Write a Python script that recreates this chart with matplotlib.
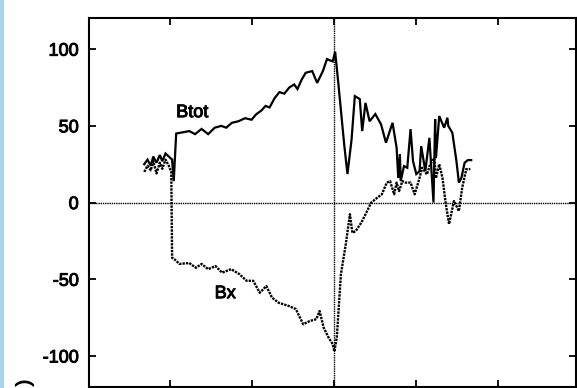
import matplotlib
matplotlib.use("Agg")
import matplotlib.pyplot as plt
import matplotlib.patheffects as pe
from matplotlib.patches import Rectangle

plt.rcParams["font.family"] = ["Liberation Sans", "DejaVu Sans"]
plt.rcParams["axes.unicode_minus"] = False

# time relative to the crossing (tick units), field in nT
t_btot = [-2.32, -2.28, -2.24, -2.21, -2.17, -2.13, -2.10, -2.06, -2.02, -1.98,
          -1.96, -1.93, -1.77, -1.70, -1.62, -1.54, -1.46, -1.38, -1.32, -1.25,
          -1.17, -1.09, -1.01, -0.955, -0.89, -0.84, -0.79, -0.73, -0.67, -0.61,
          -0.55, -0.49, -0.45, -0.40, -0.35,
          -0.27, -0.21, -0.14, -0.09, -0.02, 0.01, 0.05, 0.12, 0.16, 0.21,
          0.25, 0.31, 0.34, 0.38, 0.43, 0.50, 0.57, 0.63, 0.71, 0.76,
          0.78, 0.80, 0.81, 0.85, 0.89, 0.93, 0.96, 1.00, 1.04, 1.06,
          1.11, 1.16, 1.21, 1.23, 1.24, 1.28, 1.34, 1.38, 1.39, 1.44,
          1.49, 1.52, 1.55, 1.59, 1.63, 1.67]
btot = [25, 28, 24, 30, 26, 31, 27, 32, 30, 28,
        14, 45, 46.6, 44.6, 48, 44.6, 48.8, 50, 48.8, 52,
        53, 55, 54, 57.5, 60, 63, 62, 68, 72, 71,
        75, 77, 74, 80, 84.6,
        85.7, 78, 85.7, 93.5, 92, 98.3, 77, 38, 18.6, 41,
        69.4, 67.5, 46.6, 65, 53, 57.7, 51, 39, 52, 35.7,
        16, 31.6, 14, 23.8, 22.7, 47.9, 27, 18.6, 20.5, 36.8,
        20.5, 42.2, 0, 54.4, 29, 56.4, 48.8, 55.3, 50, 45.5,
        27, 13, 16, 26, 27.7, 27.7]

t_bx = [-2.32, -2.28, -2.24, -2.21, -2.17, -2.13, -2.10, -2.06, -2.02, -1.99,
        -1.98, -1.95, -1.89, -1.77, -1.69, -1.62, -1.54, -1.45, -1.37, -1.26,
        -1.16, -1.07, -0.99, -0.91, -0.83, -0.76, -0.68, -0.55, -0.47, -0.38,
        -0.30, -0.22, -0.18, -0.13, -0.07, -0.02, 0.0, 0.03, 0.08, 0.14,
        0.19, 0.22, 0.26, 0.33, 0.39, 0.45, 0.52, 0.58, 0.64, 0.68,
        0.73, 0.76, 0.79, 0.83, 0.87, 0.93, 0.98, 1.04, 1.07, 1.13,
        1.17, 1.22, 1.24, 1.28, 1.32, 1.36, 1.40, 1.46, 1.52, 1.56,
        1.61, 1.66]
bx = [20, 24, 21, 27, 19, 26, 22, 28, 24, 20,
      -36, -37, -40, -39.4, -42.5, -40, -43.4, -41.4, -45.7, -43.4,
      -46.6, -51, -51, -58.8, -54.4, -62, -65.3, -67.5, -69.4, -79.3,
      -77.2, -76, -70.7, -81.6, -88, -92.3, -97, -88, -46.8, -27,
      -7.6, -19.7, -18.6, -13, -6.6, 0, 3, 5.4, 13, 14,
      5.4, 13, 7.5, 14, 13, 13, 5.4, 16, 22.7, 18.4,
      25, 29, 16, 25, 16, -1, -14, 1, -5.5, 9.6,
      21.8, 21.8]

# a thin outline thickens the printed-looking lettering a little
ink = [pe.withStroke(linewidth=0.7, foreground="black")]

fig = plt.figure(figsize=(5.77, 3.88), dpi=100)
fig.patch.set_facecolor("white")
ax = fig.add_axes([0.1534, 0.0034, 0.845, 0.949])

ax.plot(t_btot, btot, color="black", lw=1.6, solid_joinstyle="miter")
ax.plot(t_bx, bx, color="black", lw=1.7, linestyle=(0, (1.0, 0.45)))

# reference lines at zero field and at the crossing time
ax.axhline(0, color="black", lw=1.0, linestyle=(0, (1.0, 0.6)))
ax.axvline(0, color="black", lw=1.0, linestyle=(0, (1.0, 0.6)))

ax.text(-1.93, 55.7, "Btot", fontsize=13, ha="left", va="baseline", path_effects=ink)
ax.text(-1.46, -62.3, "Bx", fontsize=13, ha="left", va="baseline", path_effects=ink)

ax.set_xlim(-3.0, 2.95)
ax.set_ylim(-120, 120)
ax.set_yticks([-100, -50, 0, 50, 100])
ax.set_xticks([-2, -1, 0, 1, 2])
ax.tick_params(direction="in", length=5, width=1.3, top=True, right=True,
               labelbottom=False, labelsize=13, pad=7)
for lbl in ax.get_yticklabels():
    lbl.set_path_effects(ink)
for s in ax.spines.values():
    s.set_linewidth(1.5)

# closing bracket of the axis unit, the rest runs off the bottom edge
fig.text(25 / 577, 1 - 383 / 388, ")", rotation=90, fontsize=14,
         ha="center", va="center", path_effects=ink)

# pale blue edge along the left border
fig.patches.append(Rectangle((0, 0), 4 / 577, 1, transform=fig.transFigure,
                             facecolor="#a9d6e6", edgecolor="none"))

fig.savefig("out.png", dpi=100)
